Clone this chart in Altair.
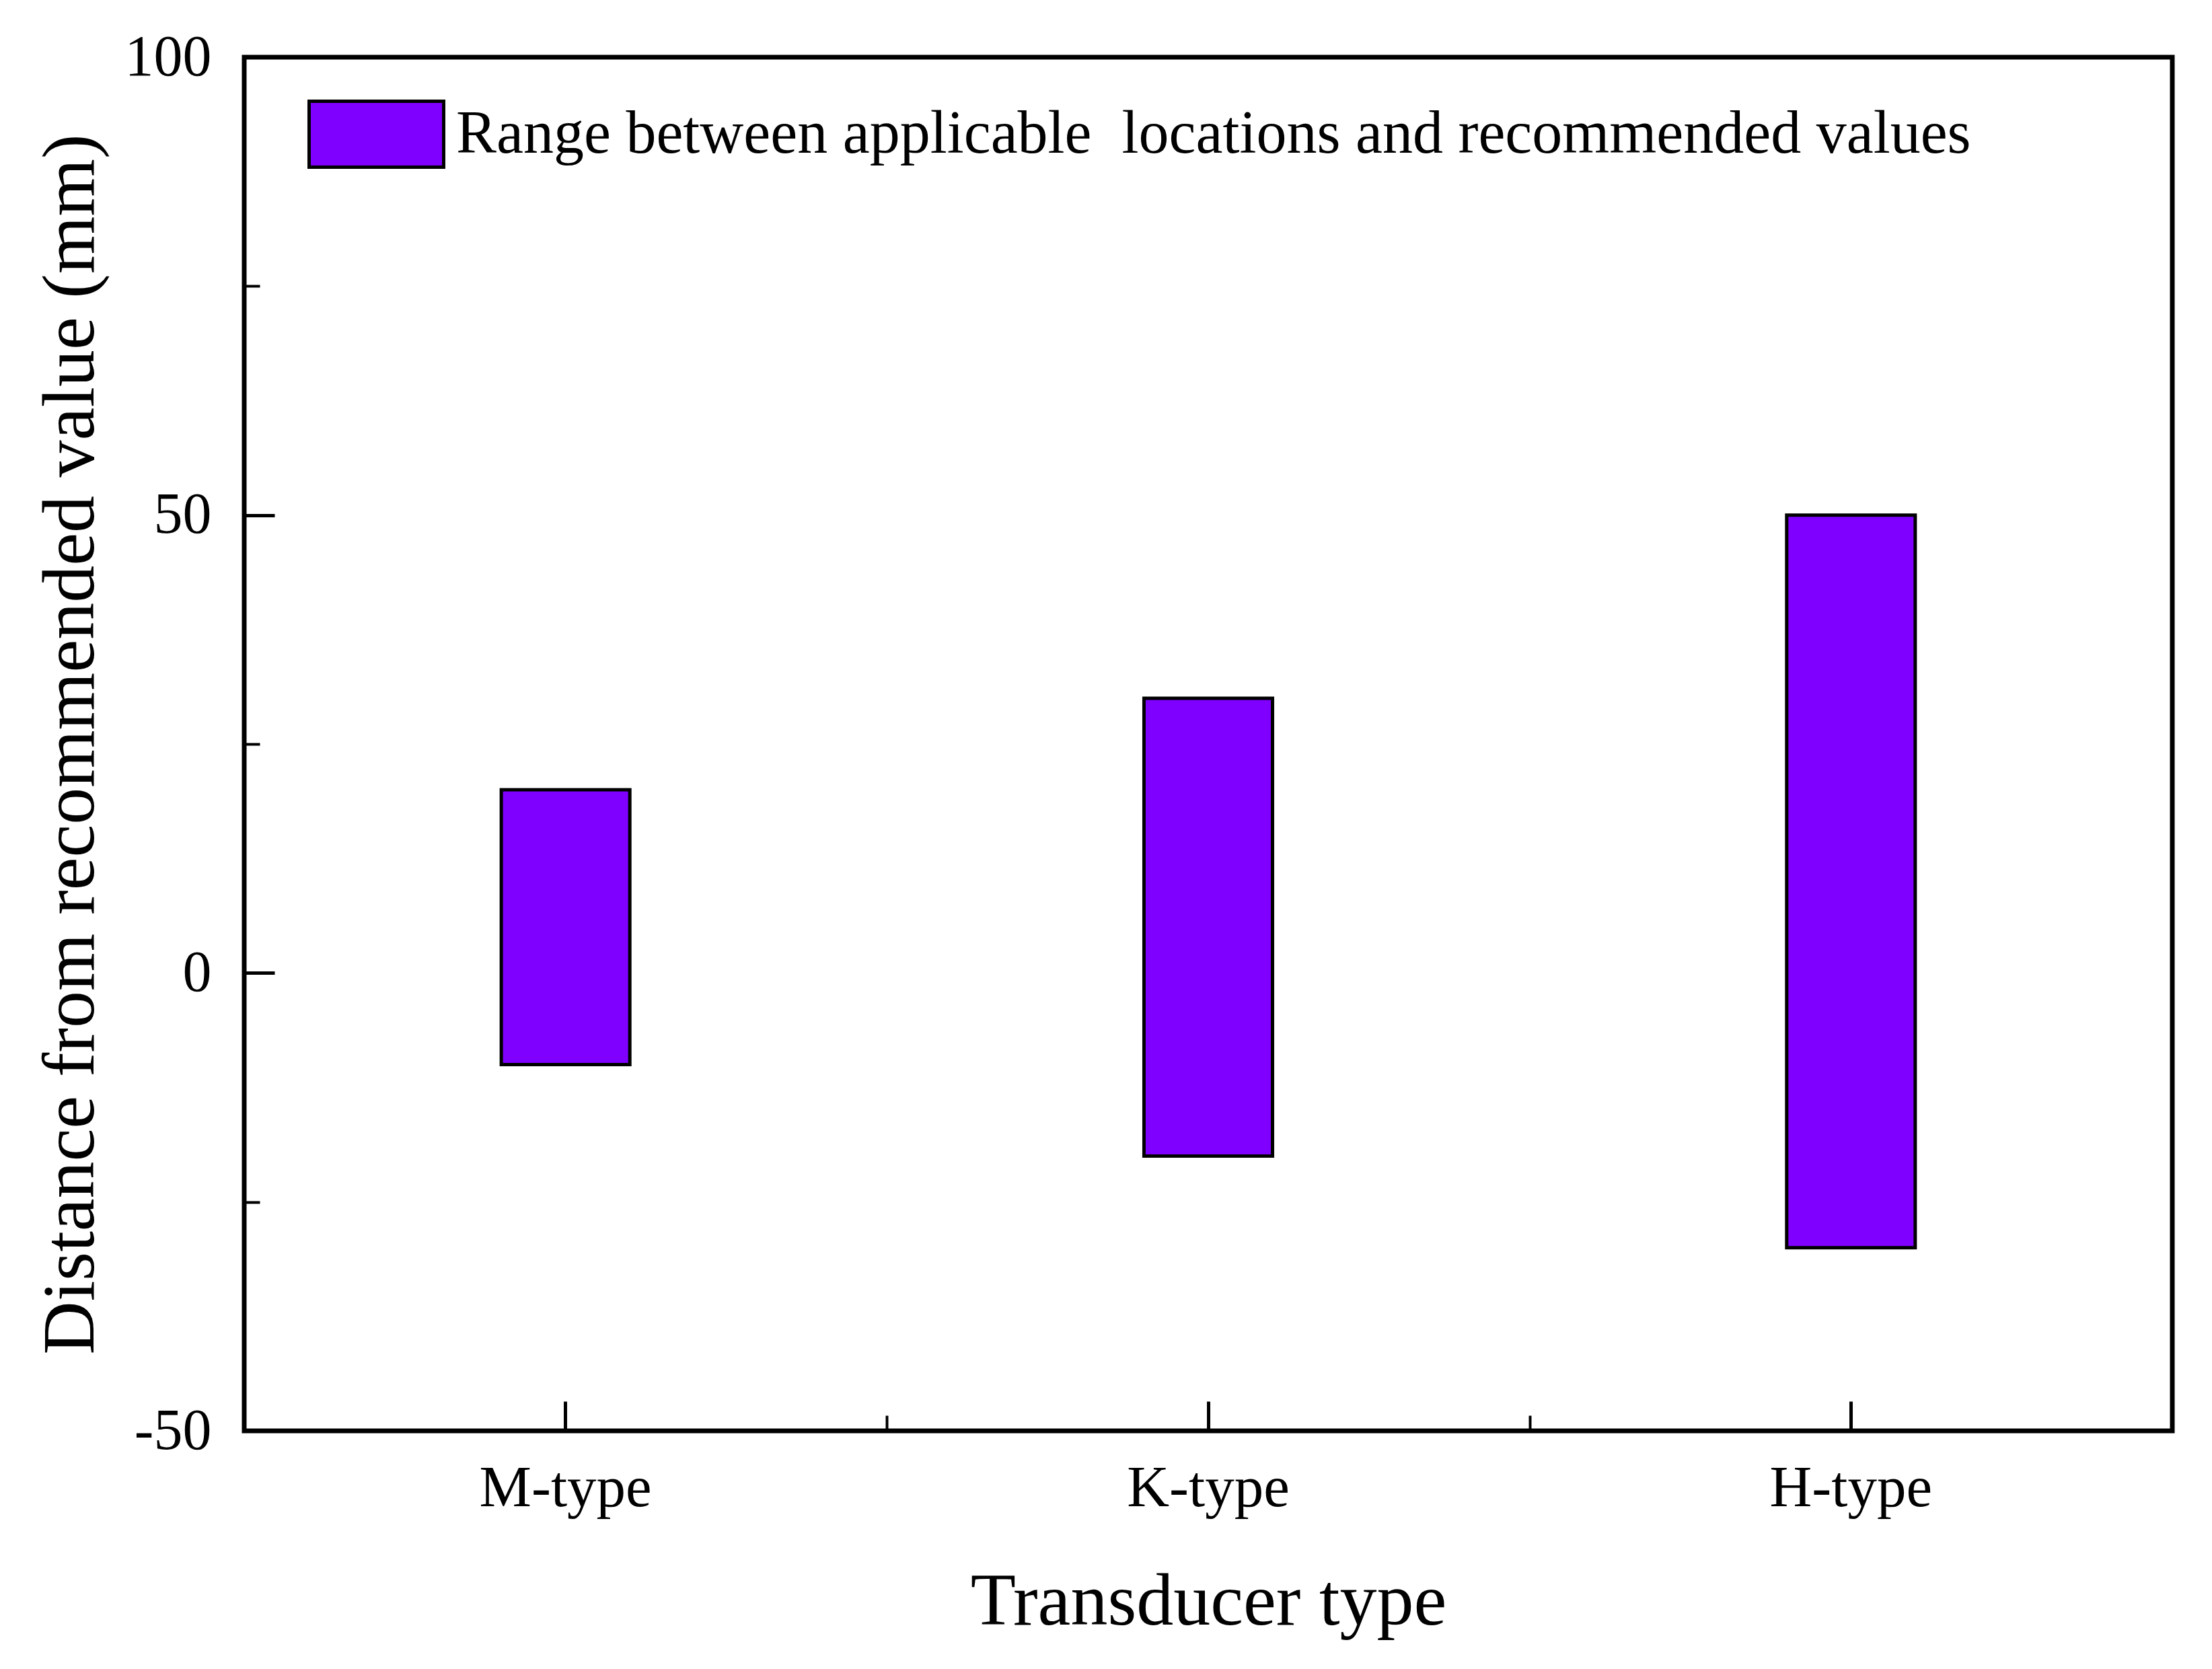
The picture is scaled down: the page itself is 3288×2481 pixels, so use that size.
import altair as alt
import pandas as pd

categories = ["M-type", "K-type", "H-type"]
upper = [20, 30, 50]
lower = [-10, -20, -30]
series_label = "Range between applicable\u00a0 locations and recommended values"
y_label_values = [-50, 0, 50, 100]
y_major_ticks = [0, 50]
y_minor_ticks = [-25, 25, 75]

df = pd.DataFrame({"type": categories, "low": lower, "high": upper, "series": [series_label] * 3})

W, H = 2866, 2042
FONT = "Liberation Serif"

xscale = alt.Scale(paddingInner=0, paddingOuter=0)
yscale = alt.Scale(domain=[-50, 100], nice=False, zero=False)

base = alt.Chart(df)

bars = base.mark_bar(stroke="black", strokeWidth=5, width=alt.RelativeBandSize(0.2)).encode(
    x=alt.X("type:N", sort=categories, scale=xscale,
            axis=alt.Axis(title="Transducer type", ticks=False, domain=False, labelAngle=0,
                          labelFont=FONT, labelFontSize=87, labelColor="black",
                          labelBaseline="alphabetic", labelPadding=111, labelLimit=2000,
                          titleFont=FONT, titleFontSize=110, titleFontWeight="normal",
                          titleColor="black", titleBaseline="alphabetic",
                          titleX=W / 2, titleY=287)),
    y=alt.Y("low:Q", scale=yscale,
            axis=alt.Axis(title="Distance from recommended value (mm)", values=y_label_values,
                          ticks=False, domain=False, grid=False,
                          labelExpr="'' + datum.value",
                          labelFont=FONT, labelFontSize=86, labelColor="black",
                          labelPadding=49, labelBaseline="middle",
                          titleFont=FONT, titleFontSize=110, titleFontWeight="normal",
                          titleColor="black", titleBaseline="alphabetic",
                          titleAngle=-90, titleX=-225, titleY=H / 2)),
    y2="high:Q",
    color=alt.Color("series:N",
                    scale=alt.Scale(domain=[series_label], range=["#7F00FF"]),
                    legend=alt.Legend(title=None, orient="none", legendX=94, legendY=12,
                                      padding=0,
                                      symbolType="M-1,-0.49L1,-0.49L1,0.49L-1,0.49Z",
                                      symbolSize=40000, symbolStrokeColor="black",
                                      symbolStrokeWidth=5, symbolOpacity=1,
                                      labelFont=FONT, labelFontSize=90, labelColor="black",
                                      labelOffset=16, labelLimit=4000,
                                      labelBaseline="middle")),
)

major = base.mark_bar(opacity=0).encode(
    x=alt.X("type:N", sort=categories, scale=xscale,
            axis=alt.Axis(orient="top", offset=-H, title=None, labels=False, domain=False,
                          ticks=True, tickSize=44, tickWidth=5, tickColor="black")),
    y=alt.Y("low:Q", scale=yscale,
            axis=alt.Axis(orient="right", offset=-W, title=None, labels=False, domain=False,
                          grid=False, values=y_major_ticks,
                          ticks=True, tickSize=45, tickWidth=5, tickColor="black")),
    y2="high:Q",
)

minor = base.mark_bar(opacity=0).encode(
    x=alt.X("type:N", sort=categories, scale=xscale,
            axis=alt.Axis(orient="top", offset=-H, title=None, labels=False, domain=False,
                          tickBand="extent",
                          ticks=True, tickSize=23, tickWidth=4, tickColor="black")),
    y=alt.Y("low:Q", scale=yscale,
            axis=alt.Axis(orient="right", offset=-W, title=None, labels=False, domain=False,
                          grid=False, values=y_minor_ticks,
                          ticks=True, tickSize=23, tickWidth=4, tickColor="black")),
    y2="high:Q",
)

chart = alt.layer(bars, major, minor).resolve_axis(
    x="independent", y="independent"
).properties(
    width=W, height=H,
    autosize=alt.AutoSizeParams(type="none"),
    padding={"left": 355, "top": 77, "right": 51, "bottom": 346},
    background="white",
).configure_view(
    stroke="black", strokeWidth=7
)

chart.save("out.html", embed_options={"renderer": "svg", "actions": False})
